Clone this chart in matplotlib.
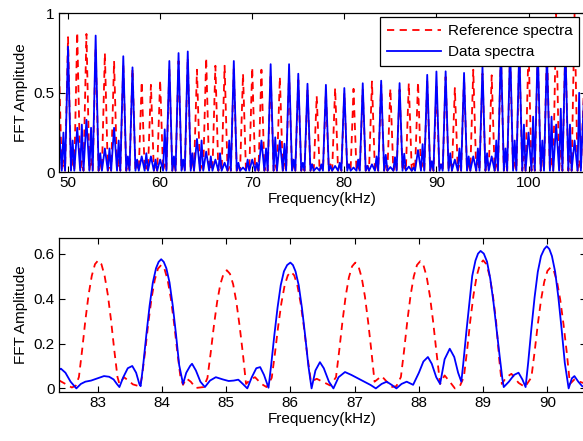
import matplotlib
matplotlib.use("Agg")
import matplotlib.pyplot as plt
import numpy as np

plt.rcParams['font.family'] = ['Liberation Sans', 'DejaVu Sans']

# ---- top panel: peak / mid-point readings, one per kHz ----
top_freq = np.arange(49, 107)          # 49 ... 106 kHz
red_peak = [0.70, 0.85, 0.88, 0.87, 0.78, 0.75, 0.70, 0.68, 0.65, 0.57,
            0.55, 0.58, 0.65, 0.70, 0.72, 0.645, 0.72, 0.67, 0.67, 0.65,
            0.62, 0.66, 0.645, 0.62, 0.60, 0.62, 0.58, 0.52, 0.48, 0.50,
            0.53, 0.50, 0.525, 0.52, 0.571, 0.55, 0.527, 0.52, 0.561, 0.567,
            0.571, 0.54, 0.60, 0.53, 0.60, 0.645, 0.62, 0.61, 0.75, 0.75,
            0.75, 0.80, 0.75, 0.80, 1.0, 0.80, 1.0, 0.50]
red_side = [0.08, 0.10, 0.07, 0.09, 0.06, 0.05, 0.08, 0.06, 0.05, 0.04,
            0.06, 0.05, 0.07, 0.05, 0.06, 0.04, 0.05, 0.06, 0.05, 0.04,
            0.05, 0.06, 0.04, 0.05, 0.06, 0.05, 0.04, 0.05, 0.04, 0.05,
            0.06, 0.05, 0.04, 0.05, 0.045, 0.05, 0.04, 0.043, 0.055, 0.058,
            0.065, 0.05, 0.06, 0.05, 0.07, 0.06, 0.08, 0.07, 0.09, 0.08,
            0.10, 0.09, 0.12, 0.10, 0.15, 0.12, 0.08]
blue_peak = [0.30, 0.79, 0.28, 0.33, 0.86, 0.15, 0.28, 0.73, 0.66, 0.10,
             0.10, 0.08, 0.70, 0.75, 0.76, 0.21, 0.13, 0.08, 0.06, 0.70,
             0.03, 0.08, 0.20, 0.68, 0.20, 0.68, 0.62, 0.557, 0.03, 0.55,
             0.04, 0.53, 0.03, 0.56, 0.05, 0.576, 0.033, 0.561, 0.036, 0.14,
             0.613, 0.634, 0.635, 0.08, 0.625, 0.10, 0.666, 0.10, 0.80, 0.80,
             0.80, 0.25, 0.80, 0.75, 0.30, 0.80, 0.20, 0.45]
blue_mid = [0.25, 0.20, 0.30, 0.28, 0.12, 0.15, 0.20, 0.10, 0.08, 0.12,
            0.08, 0.27, 0.10, 0.08, 0.12, 0.20, 0.10, 0.12, 0.20, 0.06,
            0.08, 0.06, 0.15, 0.22, 0.18, 0.08, 0.06, 0.05, 0.05, 0.04,
            0.06, 0.05, 0.08, 0.04, 0.10, 0.11, 0.095, 0.117, 0.03, 0.177,
            0.07, 0.05, 0.12, 0.15, 0.10, 0.15, 0.12, 0.20, 0.15, 0.20,
            0.30, 0.35, 0.20, 0.35, 0.40, 0.30, 0.50]
floor_level = 0.01

# ---- bottom panel: zoom 82.4 - 90.6 kHz ----
ref_zoom = [
    (82.40, 0.036), (82.50, 0.02), (82.60, 0.004), (82.66, 0.012),
    (82.71, 0.051), (82.76, 0.171), (82.81, 0.303), (82.86, 0.417), (82.91, 0.502),
    (82.96, 0.554), (83.01, 0.571), (83.06, 0.554), (83.11, 0.502), (83.16, 0.417),
    (83.21, 0.303), (83.26, 0.171), (83.31, 0.051), (83.34, 0.02),
    (83.41, 0.05), (83.48, 0.035), (83.55, 0.018), (83.62, 0.012), (83.66, 0.01),
    (83.69, 0.05), (83.74, 0.165), (83.79, 0.292), (83.84, 0.402), (83.89, 0.484),
    (83.94, 0.534), (83.99, 0.55), (84.04, 0.534), (84.09, 0.484), (84.14, 0.402),
    (84.19, 0.292), (84.24, 0.165), (84.29, 0.05), (84.33, 0.016),
    (84.38, 0.045), (84.45, 0.03), (84.53, 0.002), (84.65, 0.006),
    (84.71, 0.047), (84.76, 0.158), (84.81, 0.279), (84.86, 0.385), (84.91, 0.464),
    (84.96, 0.511), (85.01, 0.527), (85.06, 0.511), (85.11, 0.464), (85.16, 0.385),
    (85.21, 0.279), (85.26, 0.158), (85.31, 0.02),
    (85.38, 0.04), (85.45, 0.05), (85.55, 0.02), (85.63, 0.006),
    (85.71, 0.047), (85.76, 0.156), (85.81, 0.276), (85.86, 0.380), (85.91, 0.458),
    (85.96, 0.504), (86.01, 0.52), (86.06, 0.504), (86.11, 0.458), (86.16, 0.380),
    (86.21, 0.276), (86.26, 0.156), (86.32, 0.03),
    (86.41, 0.043), (86.50, 0.03), (86.62, 0.013),
    (86.71, 0.05), (86.76, 0.168), (86.81, 0.297), (86.86, 0.410), (86.91, 0.494),
    (86.96, 0.544), (87.01, 0.561), (87.06, 0.544), (87.11, 0.494), (87.16, 0.410),
    (87.21, 0.297), (87.26, 0.168), (87.31, 0.03),
    (87.42, 0.055), (87.50, 0.03), (87.57, 0.006), (87.65, 0.01),
    (87.72, 0.051), (87.77, 0.170), (87.82, 0.301), (87.87, 0.414), (87.92, 0.499),
    (87.97, 0.550), (88.02, 0.567), (88.07, 0.550), (88.12, 0.499), (88.17, 0.414),
    (88.22, 0.301), (88.27, 0.170), (88.33, 0.02),
    (88.40, 0.058), (88.48, 0.03), (88.56, 0.0), (88.64, 0.012),
    (88.70, 0.051), (88.75, 0.171), (88.80, 0.303), (88.85, 0.417), (88.90, 0.502),
    (88.95, 0.554), (89.00, 0.571), (89.05, 0.554), (89.10, 0.502), (89.15, 0.417),
    (89.20, 0.303), (89.25, 0.13), (89.29, 0.02),
    (89.36, 0.05), (89.44, 0.065), (89.55, 0.025), (89.65, 0.006),
    (89.75, 0.049), (89.80, 0.162), (89.85, 0.286), (89.90, 0.394), (89.95, 0.475),
    (90.00, 0.524), (90.05, 0.54), (90.10, 0.524), (90.15, 0.475), (90.20, 0.394),
    (90.25, 0.286), (90.30, 0.162), (90.35, 0.02),
    (90.42, 0.04), (90.50, 0.03), (90.60, 0.02),
]
data_zoom = [
    (82.38, 0.08), (82.43, 0.088), (82.50, 0.07), (82.58, 0.03), (82.67, 0.0),
    (82.74, 0.02), (82.81, 0.03), (82.90, 0.035), (83.00, 0.045), (83.10, 0.055),
    (83.18, 0.052), (83.25, 0.04), (83.30, 0.02), (83.34, 0.006), (83.40, 0.05),
    (83.47, 0.09), (83.54, 0.10), (83.60, 0.07), (83.65, 0.02), (83.67, 0.01),
    (83.71, 0.104), (83.76, 0.242), (83.81, 0.369), (83.86, 0.472), (83.91, 0.536),
    (83.95, 0.564), (83.99, 0.576), (84.03, 0.564), (84.07, 0.536), (84.12, 0.472),
    (84.17, 0.369), (84.22, 0.242), (84.27, 0.104), (84.33, 0.02),
    (84.38, 0.07), (84.44, 0.10), (84.47, 0.11), (84.53, 0.08), (84.60, 0.03),
    (84.67, 0.006), (84.75, 0.035), (84.84, 0.05), (84.95, 0.04), (85.04, 0.033),
    (85.12, 0.035), (85.19, 0.039), (85.26, 0.02), (85.33, 0.0), (85.40, 0.05),
    (85.47, 0.09), (85.53, 0.095), (85.59, 0.06), (85.66, 0.003),
    (85.70, 0.101), (85.75, 0.236), (85.80, 0.359), (85.85, 0.460), (85.90, 0.522),
    (85.95, 0.550), (86.00, 0.561), (86.04, 0.550), (86.08, 0.522), (86.13, 0.460),
    (86.18, 0.359), (86.23, 0.236), (86.28, 0.101), (86.33, 0.0),
    (86.39, 0.08), (86.46, 0.117), (86.52, 0.09), (86.60, 0.03), (86.67, 0.0),
    (86.75, 0.05), (86.85, 0.073), (86.95, 0.06), (87.05, 0.045), (87.15, 0.03),
    (87.25, 0.015), (87.33, 0.0), (87.42, 0.02), (87.50, 0.03), (87.58, 0.015),
    (87.65, 0.0), (87.73, 0.02), (87.81, 0.03), (87.91, 0.016), (88.00, 0.07),
    (88.07, 0.12), (88.14, 0.14), (88.20, 0.11), (88.27, 0.05), (88.33, 0.02),
    (88.40, 0.13), (88.48, 0.177), (88.55, 0.14), (88.61, 0.07), (88.66, 0.03),
    (88.69, 0.11), (88.74, 0.257), (88.79, 0.392), (88.83, 0.502), (88.88, 0.570),
    (88.92, 0.601), (88.96, 0.613), (89.01, 0.601), (89.06, 0.565), (89.11, 0.490),
    (89.16, 0.385), (89.21, 0.260), (89.26, 0.135), (89.30, 0.04), (89.32, 0.006),
    (89.40, 0.03), (89.48, 0.06), (89.55, 0.07), (89.61, 0.04), (89.66, 0.006),
    (89.70, 0.114), (89.75, 0.266), (89.80, 0.406), (89.85, 0.520), (89.90, 0.590),
    (89.95, 0.621), (89.99, 0.634), (90.03, 0.621), (90.07, 0.590), (90.12, 0.520),
    (90.17, 0.406), (90.22, 0.266), (90.27, 0.114), (90.33, 0.0),
    (90.38, 0.045), (90.42, 0.055), (90.48, 0.03), (90.54, 0.01), (90.60, 0.005),
]


def top_curve(peaks, mids, lo):
    xs, ys = [], []
    for i, f in enumerate(top_freq):
        xs.append(f)
        ys.append(peaks[i])
        if i < len(mids):
            xs += [f + 0.32, f + 0.5, f + 0.68]
            ys += [lo, mids[i], lo]
    return xs, ys


red_x, red_y = top_curve(red_peak, red_side, floor_level)
blue_x, blue_y = top_curve(blue_peak, blue_mid, floor_level)
rz_x, rz_y = zip(*ref_zoom)
dz_x, dz_y = zip(*data_zoom)

fig = plt.figure(figsize=(5.83, 4.41), dpi=100)
ax1 = fig.add_axes([59 / 583, 1 - 172.3 / 441, 527 / 583, 159 / 441])
ax2 = fig.add_axes([59 / 583, 1 - 392 / 441, 527 / 583, 154.3 / 441])

lw = 1.3
ax1.plot(red_x, red_y, color="red", linewidth=lw, dashes=(4, 3), label="Reference spectra")
ax1.plot(blue_x, blue_y, color="blue", linewidth=lw, label="Data spectra")
ax1.set_xlim(49.02, 106.24)
ax1.set_ylim(0, 1)
ax1.set_yticks([0, 0.5, 1])
ax1.set_yticklabels(["0", "0.5", "1"])
ax1.set_xticks([50, 60, 70, 80, 90, 100])
leg = ax1.legend(loc="upper right", bbox_to_anchor=(0.987, 0.975), borderaxespad=0,
                 fancybox=False, framealpha=1, edgecolor="black", fontsize=11,
                 handlelength=3.5, handletextpad=0.45, borderpad=0.45, labelspacing=0.45)
leg.get_frame().set_linewidth(0.9)

ax2.plot(rz_x, rz_y, color="red", linewidth=lw, dashes=(4, 3))
ax2.plot(dz_x, dz_y, color="blue", linewidth=lw)
ax2.set_xlim(82.40, 90.6)
ax2.set_ylim(-0.016, 0.672)
ax2.set_yticks([0, 0.2, 0.4, 0.6])
ax2.set_yticklabels(["0", "0.2", "0.4", "0.6"])
ax2.set_xticks(range(83, 91))

for ax in (ax1, ax2):
    ax.set_xlabel("Frequency(kHz)", fontsize=11, labelpad=1)
    ax.set_ylabel("FFT Amplitude", fontsize=11, labelpad=4)
    ax.tick_params(direction="in", top=True, right=True, length=4, width=0.8,
                   labelsize=11, pad=3)
    for s in ax.spines.values():
        s.set_linewidth(0.9)

plt.savefig("out.png", dpi=100)
